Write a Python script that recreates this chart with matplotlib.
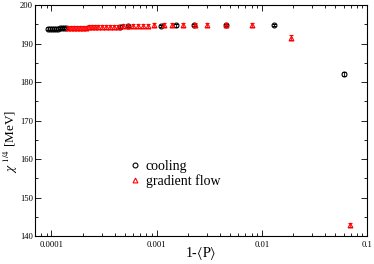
import matplotlib
matplotlib.use('Agg')
import matplotlib.pyplot as plt
from matplotlib.lines import Line2D
from matplotlib.ticker import FixedLocator, FixedFormatter, MultipleLocator, LogLocator, NullFormatter

plt.rcParams['font.family'] = ['Liberation Serif', 'DejaVu Serif']
plt.rcParams['mathtext.fontset'] = 'stix'

# cooling data
cool_x = [9.37e-5, 9.78e-5, 1.022e-4, 1.068e-4, 1.115e-4, 1.165e-4, 1.217e-4, 1.271e-4,
          1.328e-4, 1.388e-4, 4.51e-4, 5.37e-4, 1.10e-3, 1.53e-3, 2.27e-3, 4.56e-3,
          1.30e-2, 6.12e-2]
cool_y = [193.9, 193.9, 193.9, 193.9, 193.9, 193.9, 194.0, 194.0,
          194.0, 194.0, 194.4, 194.5, 194.6, 194.7, 194.8, 194.8,
          194.8, 182.1]
cool_err = [0.3] * 17 + [0.5]

# gradient flow data
gf_x = [1.45e-4, 1.55e-4, 1.65e-4, 1.76e-4, 1.88e-4, 2.01e-4, 2.15e-4, 2.29e-4,
        2.45e-4, 2.61e-4, 2.79e-4, 3.04e-4, 3.32e-4, 3.62e-4, 3.95e-4, 4.32e-4,
        4.81e-4, 5.37e-4, 5.98e-4, 6.68e-4, 7.45e-4, 8.30e-4, 9.46e-4, 1.18e-3,
        1.40e-3, 1.78e-3, 2.32e-3, 3.01e-3, 4.56e-3, 8.04e-3, 1.88e-2, 6.98e-2]
gf_y = [194.0, 194.0, 194.0, 194.0, 194.1, 194.1, 194.1, 194.2,
        194.2, 194.2, 194.3, 194.3, 194.3, 194.4, 194.4, 194.4,
        194.5, 194.5, 194.5, 194.6, 194.6, 194.6, 194.7, 194.7,
        194.7, 194.8, 194.8, 194.8, 194.8, 194.8, 191.5, 142.9]
gf_err = [0.5] * 30 + [0.6, 0.6]

fig = plt.figure(figsize=(3.74, 2.64), dpi=100)
ax = fig.add_axes([0.094, 0.106, 0.887, 0.875])

ax.errorbar(cool_x, cool_y, yerr=cool_err, fmt='o', ms=3.5, mfc='none', mec='black',
            mew=0.8, ecolor='black', elinewidth=0.6, capsize=1.2, capthick=0.6, zorder=3)
ax.errorbar(gf_x, gf_y, yerr=gf_err, fmt='^', ms=3.5, mfc='none', mec='red',
            mew=0.8, ecolor='red', elinewidth=0.6, capsize=1.2, capthick=0.6, zorder=4)

ax.set_xscale('log')
ax.set_xlim(7e-5, 0.1)
ax.set_ylim(140, 200)

ax.xaxis.set_major_locator(FixedLocator([1e-4, 1e-3, 1e-2, 1e-1]))
ax.xaxis.set_major_formatter(FixedFormatter(['0.0001', '0.001', '0.01', '0.1']))
ax.xaxis.set_minor_locator(LogLocator(base=10, subs=range(2, 10)))
ax.xaxis.set_minor_formatter(NullFormatter())
ax.yaxis.set_major_locator(MultipleLocator(10))
ax.yaxis.set_minor_locator(MultipleLocator(5))

ax.tick_params(which='both', direction='in', top=True, right=True, labelsize=6.2, width=0.6)
ax.tick_params(which='major', length=4)
ax.tick_params(which='minor', length=2)
ax.tick_params(axis='y', pad=1.5)
for s in ax.spines.values():
    s.set_linewidth(0.8)

ax.set_xlabel(r'1-$\langle \mathrm{P}\rangle$', fontsize=10)
ax.xaxis.set_label_coords(0.5, -0.04)
ax.set_ylabel(r'$\chi^{\ 1/4}$ [MeV]', fontsize=9.5)
ax.yaxis.set_label_coords(-0.046, 0.41)

handles = [Line2D([], [], ls='none', marker='o', ms=3.5, mfc='none', mec='black', mew=0.8),
           Line2D([], [], ls='none', marker='^', ms=3.5, mfc='none', mec='red', mew=0.8)]
ax.legend(handles, ['cooling', 'gradient flow'], loc='center left',
          bbox_to_anchor=(0.25, 0.27), frameon=False, fontsize=10,
          handlelength=0.6, handletextpad=0.5, labelspacing=0.1)

plt.savefig('out.png', dpi=100)
